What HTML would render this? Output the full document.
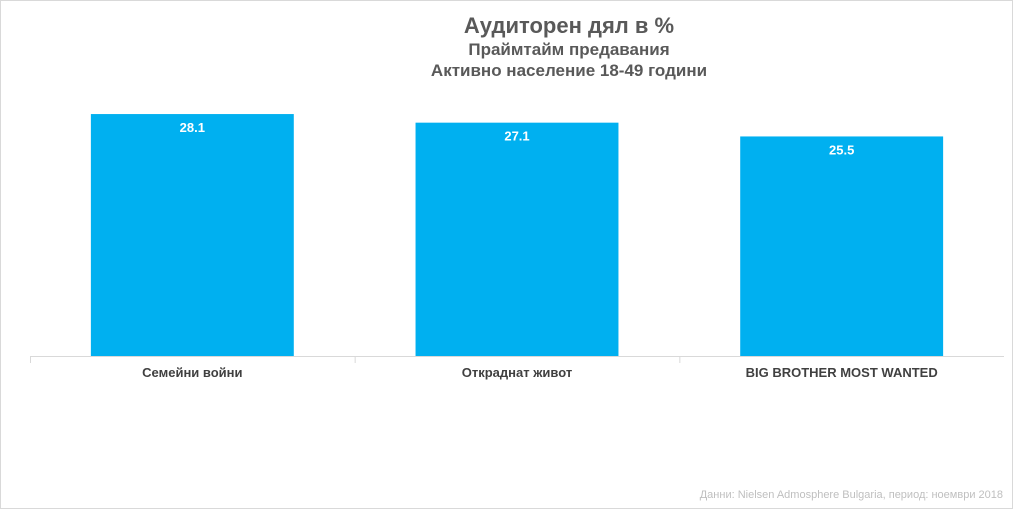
<!DOCTYPE html>
<html><head><meta charset="utf-8"><style>
body{margin:0;width:1013px;height:509px;overflow:hidden;background:#fff;font-family:"Liberation Sans",sans-serif}
svg{display:block}
</style></head><body>
<svg width="1013" height="509">
<rect x="0.5" y="0.5" width="1012" height="508" fill="#fff" stroke="#d9d9d9"/>
<text x="569" y="33" text-anchor="middle" font-size="22" font-weight="bold" fill="#595959">Аудиторен дял в %</text>
<text x="569" y="55" text-anchor="middle" font-size="17" font-weight="bold" fill="#595959">Праймтайм предавания</text>
<text x="569" y="76" text-anchor="middle" font-size="17" font-weight="bold" fill="#595959">Активно население 18-49  години</text>
<g id="plot"></g>
<text x="1003" y="498" text-anchor="end" font-size="11" fill="#bfbfbf">Данни: Nielsen Admosphere Bulgaria, период:  ноември 2018</text>
</svg>
<script>
const categories=["Семейни войни","Откраднат живот","BIG BROTHER MOST WANTED"];
const values=[28.1,27.1,25.5];
const valueLabels=["28.1","27.1","25.5"];
const x0=30,x1=1004,y0=356,pxPerUnit=8.61;
const band=(x1-x0)/categories.length;
const xS=i=>x0+band*i;
const yS=v=>y0-v*pxPerUnit;
const g=document.getElementById('plot');
const NS='http://www.w3.org/2000/svg';
function mk(t,a){const e=document.createElementNS(NS,t);for(const k in a)e.setAttribute(k,a[k]);g.appendChild(e);return e;}
const axis=mk('line',{x1:x0,x2:x1,y1:y0+0.5,y2:y0+0.5,stroke:'#d9d9d9','stroke-width':1});


for(let i=0;i<categories.length;i++){
 const tk=mk('line',{x1:xS(i)+0.5,x2:xS(i)+0.5,y1:y0,y2:y0+7,stroke:'#d9d9d9'});
 
 
 const bw=band*0.625, bx=xS(i)+(band-bw)/2;
 const b=mk('rect',{x:bx,y:yS(values[i]),width:bw,height:y0-yS(values[i]),fill:'#00b0f0'});
 
 
 const vl=mk('text',{x:xS(i)+band/2,y:yS(values[i])+18,'text-anchor':'middle','font-size':13,'font-weight':'bold',fill:'#fff'});
 vl.textContent=valueLabels[i];
 
 
 const cl=mk('text',{x:xS(i)+band/2,y:y0+21,'text-anchor':'middle','font-size':13,'font-weight':'bold',fill:'#404040'});
 cl.textContent=categories[i];
 
 
}
</script>
</body></html>
